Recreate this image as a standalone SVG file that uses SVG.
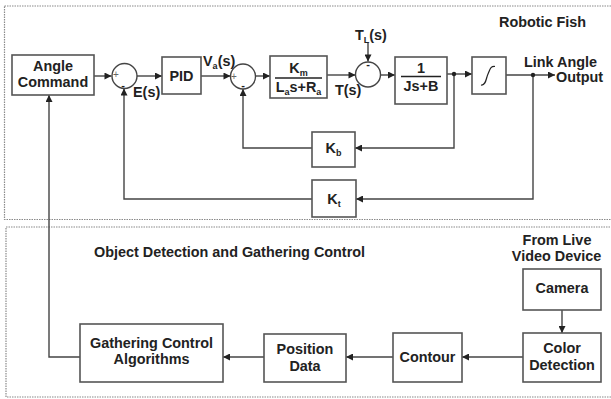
<svg xmlns="http://www.w3.org/2000/svg" width="611" height="399" viewBox="0 0 611 399">
  <defs>
    <marker id="ah" viewBox="0 0 10 10" refX="10" refY="5" markerWidth="10" markerHeight="7" markerUnits="userSpaceOnUse" orient="auto">
      <path d="M0,0 L10,5 L0,10 z" fill="#222"/>
    </marker>
    <style>
      .frame { fill: none; stroke: #8a8a8a; stroke-width: 1.2; stroke-dasharray: 1.5 1; }
      .box { fill: #fff; stroke: #555; stroke-width: 1.6; }
      .sum { fill: #fff; stroke: #444; stroke-width: 1.4; }
      .wire { fill: none; stroke: #444; stroke-width: 1.4; }
      .arrow { marker-end: url(#ah); }
      .t { font-family: "Liberation Sans", Arial, sans-serif; font-weight: bold; font-size: 14.4px; fill: #222; }
      .c { text-anchor: middle; }
      .sub { font-size: 9px; }
      .sign { font-family: "Liberation Sans", Arial, sans-serif; font-size: 10px; fill: #666; text-anchor: middle; }
      .minus { font-family: "Liberation Sans", Arial, sans-serif; font-size: 11px; font-weight: bold; fill: #222; text-anchor: middle; }
      .dot { fill: #222; }
    </style>
  </defs>

  <!-- enclosing regions -->
  <rect class="frame" x="4.5" y="6" width="620" height="213.5"/>
  <rect class="frame" x="6" y="227" width="620" height="170"/>
  <text class="t" x="499" y="27">Robotic Fish</text>
  <text class="t" x="94" y="257">Object Detection and Gathering Control</text>

  <!-- connectors -->
  <g id="connectors">
    <path class="wire arrow" d="M94,76 H111.5"/>
    <path class="wire arrow" d="M137,76 H162"/>
    <path class="wire arrow" d="M201,76 H230.5"/>
    <path class="wire arrow" d="M255.5,76 H270"/>
    <path class="wire arrow" d="M327,75 H355.5"/>
    <path class="wire arrow" d="M368,43 V61.5"/>
    <path class="wire arrow" d="M380.5,75 H395"/>
    <path class="wire arrow" d="M447,74 H472"/>
    <path class="wire arrow" d="M506,75 H555"/>
    <path class="wire arrow" d="M454,74 V148 H355"/>
    <path class="wire arrow" d="M312,148 H243 V89"/>
    <path class="wire arrow" d="M533,75 V199 H356"/>
    <path class="wire arrow" d="M312,199 H124 V88.5"/>
    <path class="wire arrow" d="M80,357 H49 V95"/>
    <path class="wire arrow" d="M264,357 H223"/>
    <path class="wire arrow" d="M393,357 H346"/>
    <path class="wire arrow" d="M523,357 H462"/>
    <path class="wire arrow" d="M562,310 V333"/>
    <circle class="dot" cx="454" cy="74" r="2.2"/>
    <circle class="dot" cx="533" cy="75" r="2.2"/>
  </g>

  <!-- robotic fish control loop -->
  <g id="angle-command">
    <rect class="box" x="12" y="55" width="82" height="40"/>
    <text class="t c" x="53" y="71">Angle</text>
    <text class="t c" x="53" y="87">Command</text>
  </g>

  <g id="sum-error">
    <circle class="sum" cx="124.5" cy="76" r="12.5"/>
    <text class="sign" x="116" y="78">+</text>
    <text class="minus" x="123" y="89">-</text>
    <text class="t" x="133" y="97">E(s)</text>
  </g>

  <g id="pid">
    <rect class="box" x="162" y="57" width="39" height="37"/>
    <text class="t c" x="181.5" y="81">PID</text>
    <text class="t" x="203" y="66">V<tspan class="sub" dy="3">a</tspan><tspan dy="-3">(s)</tspan></text>
  </g>

  <g id="sum-voltage">
    <circle class="sum" cx="243" cy="76.5" r="12.5"/>
    <text class="sign" x="234" y="80">+</text>
    <text class="minus" x="243" y="89">-</text>
  </g>

  <g id="motor">
    <rect class="box" x="270" y="56" width="57" height="42"/>
    <text class="t c" x="298.5" y="73">K<tspan class="sub" dy="2.5">m</tspan></text>
    <line x1="275" y1="78" x2="322" y2="78" stroke="#222" stroke-width="1.4"/>
    <text class="t c" x="298.5" y="92">L<tspan class="sub" dy="3">a</tspan><tspan dy="-3">s+R</tspan><tspan class="sub" dy="3">a</tspan></text>
    <text class="t" x="335" y="95">T(s)</text>
  </g>

  <g id="sum-torque">
    <circle class="sum" cx="368" cy="74.5" r="12.5"/>
    <text class="minus" x="368" y="68">-</text>
    <text class="t" x="355" y="40">T<tspan class="sub" dy="3">L</tspan><tspan dy="-3">(s)</tspan></text>
  </g>

  <g id="plant">
    <rect class="box" x="395" y="57" width="52" height="47"/>
    <text class="t c" x="421" y="73">1</text>
    <line x1="401" y1="76.5" x2="441" y2="76.5" stroke="#222" stroke-width="1.4"/>
    <text class="t c" x="421" y="91">Js+B</text>
  </g>

  <g id="integrator">
    <rect class="box" x="472" y="57" width="34" height="37"/>
    <path d="M481,85 C486,86 486,78 488,74 C490,70 490,66 495,66.5" fill="none" stroke="#222" stroke-width="1.2"/>
  </g>

  <g id="link-angle-output">
    <text class="t" x="524" y="67">Link Angle</text>
    <text class="t" x="556" y="82">Output</text>
  </g>

  <g id="kb">
    <rect class="box" x="312" y="132" width="43" height="35"/>
    <text class="t c" x="333.5" y="153">K<tspan class="sub" dy="3">b</tspan></text>
  </g>

  <g id="kt">
    <rect class="box" x="312" y="180" width="44" height="37"/>
    <text class="t c" x="334" y="204">K<tspan class="sub" dy="3">t</tspan></text>
  </g>

  <!-- object detection and gathering control -->
  <g id="video-source">
    <text class="t c" x="557" y="245">From Live</text>
    <text class="t c" x="556.5" y="261">Video Device</text>
  </g>

  <g id="camera">
    <rect class="box" x="523" y="269" width="78" height="41"/>
    <text class="t c" x="562" y="293">Camera</text>
  </g>

  <g id="color-detection">
    <rect class="box" x="523" y="333" width="78" height="49"/>
    <text class="t c" x="562" y="353">Color</text>
    <text class="t c" x="562" y="370">Detection</text>
  </g>

  <g id="contour">
    <rect class="box" x="393" y="333" width="69" height="49"/>
    <text class="t c" x="427.5" y="362">Contour</text>
  </g>

  <g id="position-data">
    <rect class="box" x="264" y="334" width="82" height="48"/>
    <text class="t c" x="305" y="354">Position</text>
    <text class="t c" x="305" y="371">Data</text>
  </g>

  <g id="gathering-control">
    <rect class="box" x="80" y="324" width="143" height="58"/>
    <text class="t c" x="151.5" y="348">Gathering Control</text>
    <text class="t c" x="151.5" y="364">Algorithms</text>
  </g>
</svg>
